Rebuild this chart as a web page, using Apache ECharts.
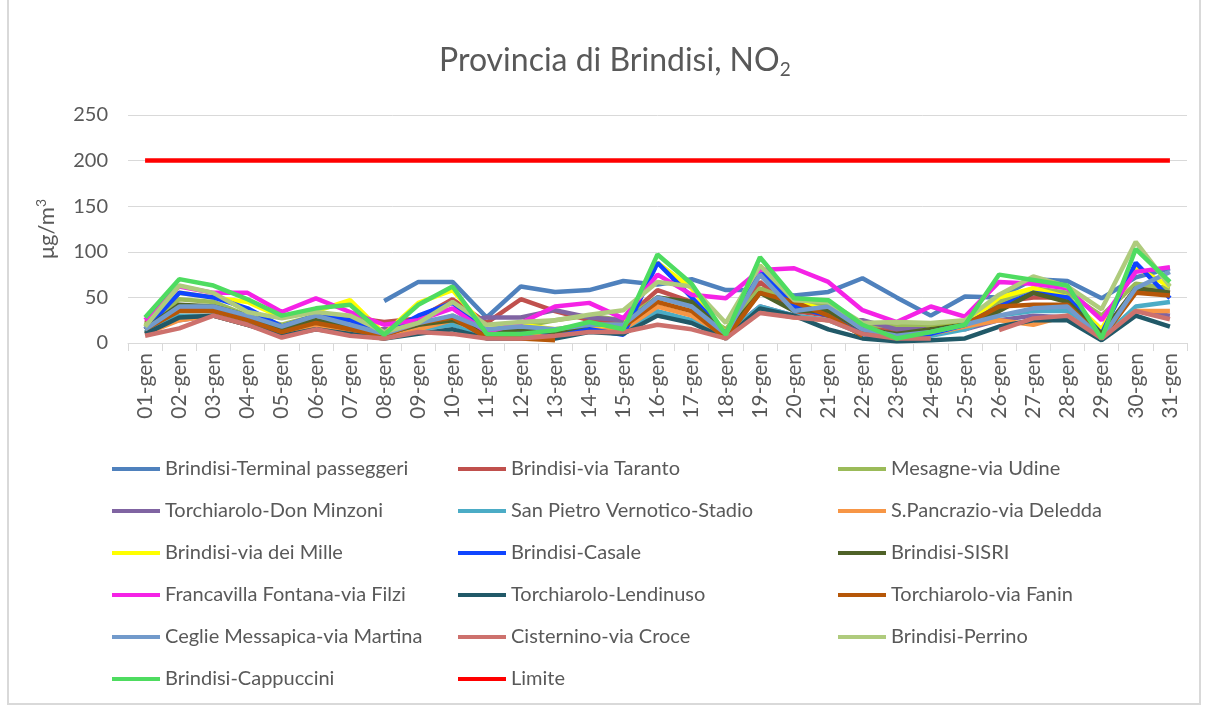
<!DOCTYPE html>
<html lang="it">
<head>
  <meta charset="UTF-8" />
  <title>Provincia di Brindisi, NO2</title>
  <script src="https://cdn.jsdelivr.net/npm/echarts@6/dist/echarts.min.js"></script>
  <style>
    html, body, #main {
      margin: 0; padding: 0; width: 100%; height: 100%;
      background: #ffffff;
    }
  </style>
</head>
<body>
  <div id="main"></div>
  <script>
    const days = ['01-gen','02-gen','03-gen','04-gen','05-gen','06-gen','07-gen','08-gen','09-gen','10-gen',
      '11-gen','12-gen','13-gen','14-gen','15-gen','16-gen','17-gen','18-gen','19-gen','20-gen',
      '21-gen','22-gen','23-gen','24-gen','25-gen','26-gen','27-gen','28-gen','29-gen','30-gen','31-gen'];

    const terminal = [null,null,null,null,null,null,null,46,67,67,28,62,56,58,68,64,70,58,58,52,56,71,50,30,51,50,70,68,49,72,82];
    const taranto = [22,38,35,28,18,30,28,23,27,48,22,48,35,25,25,58,45,10,67,35,30,20,14,14,20,45,50,50,10,60,55];
    const mesagne = [20,48,45,30,20,30,25,10,18,30,12,18,25,30,25,50,40,15,60,45,40,20,18,20,22,45,60,55,30,65,60];
    const donMinzoni = [15,25,30,22,15,20,15,15,18,22,28,28,36,28,25,30,25,10,40,30,25,25,15,15,15,25,30,28,5,35,30];
    const sanPietro = [12,30,30,20,12,22,15,8,15,20,8,10,8,15,10,35,25,8,40,30,25,10,5,8,15,30,35,35,5,40,45];
    const sPancrazio = [10,25,30,20,10,20,10,5,15,25,10,12,10,15,15,40,30,8,35,28,25,12,8,10,18,25,20,30,5,35,35];
    const deiMille = [18,55,50,45,28,35,47,10,44,58,15,20,15,20,18,88,60,10,85,45,36,15,8,15,20,50,60,50,15,83,62];
    const casale = [15,55,50,38,18,30,25,10,30,44,12,15,10,15,9,88,50,10,80,40,30,10,5,10,20,40,55,50,10,88,49];
    const sisri = [15,42,40,30,15,25,18,10,20,25,12,15,12,20,20,50,45,10,55,35,35,15,10,15,20,35,55,45,10,60,55];
    const francavilla = [25,62,55,55,34,49,34,20,25,38,12,22,40,44,27,75,53,49,80,82,67,36,23,40,29,67,65,60,25,78,83];
    const lendinuso = [10,28,30,20,8,15,10,5,10,15,5,5,5,12,10,30,22,5,38,30,15,5,2,3,5,18,25,25,3,30,18];
    const fanin = [15,35,35,25,12,22,15,8,22,28,6,5,3,null,18,45,35,5,55,45,30,8,null,null,20,40,42,42,5,55,52];
    const ceglie = [15,40,40,30,18,30,20,10,22,30,15,18,15,20,20,50,40,10,75,35,40,15,8,12,20,30,38,40,5,60,78];
    const cisternino = [8,16,30,20,6,15,8,5,12,10,5,5,8,12,12,20,15,5,33,28,25,10,5,5,null,14,27,30,5,35,26];
    const perrino = [18,63,55,34,27,34,30,12,22,45,20,23,25,31,36,67,62,22,85,47,45,22,23,22,25,53,73,62,37,111,62];
    const cappuccini = [28,70,63,48,30,38,42,9,42,62,10,10,14,23,15,97,65,9,94,49,47,20,5,12,20,75,69,63,5,103,67];
    const limite = [200,200,200,200,200,200,200,200,200,200,200,200,200,200,200,200,200,200,200,200,200,200,200,200,200,200,200,200,200,200,200];

    const stations = [
      ['Brindisi-Terminal passeggeri', terminal, '#4F81BD'],
      ['Brindisi-via Taranto', taranto, '#C0504D'],
      ['Mesagne-via Udine', mesagne, '#9BBB59'],
      ['Torchiarolo-Don Minzoni', donMinzoni, '#8064A2'],
      ['San Pietro Vernotico-Stadio', sanPietro, '#4BACC6'],
      ['S.Pancrazio-via Deledda', sPancrazio, '#F79646'],
      ['Brindisi-via dei Mille', deiMille, '#FFFF00'],
      ['Brindisi-Casale', casale, '#0F45FF'],
      ['Brindisi-SISRI', sisri, '#4F6228'],
      ['Francavilla Fontana-via Filzi', francavilla, '#F522E6'],
      ['Torchiarolo-Lendinuso', lendinuso, '#215968'],
      ['Torchiarolo-via Fanin', fanin, '#B65708'],
      ['Ceglie Messapica-via Martina', ceglie, '#729ACB'],
      ['Cisternino-via Croce', cisternino, '#CD716D'],
      ['Brindisi-Perrino', perrino, '#AFCB7D'],
      ['Brindisi-Cappuccini', cappuccini, '#4EDC60'],
      ['Limite', limite, '#FF0000']
    ];

    const font = 'Lato, "Liberation Sans", sans-serif';
    const grey = '#595959';

    const series = stations.map(s => ({
      name: s[0],
      type: 'line',
      data: s[1],
      showSymbol: false,
      symbol: 'none',
      connectNulls: false,
      color: s[2],
      lineStyle: { width: 4.5, color: s[2] },
      emphasis: { disabled: true },
      animation: false
    }));

    const names = stations.map(s => s[0]);
    const legendCol = (col, left) => ({
      orient: 'vertical',
      left: left,
      top: 454,
      data: names.filter((n, i) => i % 3 === col),
      icon: 'rect',
      itemWidth: 48,
      itemHeight: 4,
      itemGap: 22,
      selectedMode: false,
      textStyle: { fontFamily: font, fontSize: 20, color: grey, lineHeight: 20 }
    });

    const chart = echarts.init(document.getElementById('main'));
    chart.setOption({
      backgroundColor: '#ffffff',
      textStyle: { fontFamily: font },
      title: {
        text: 'Provincia di Brindisi, NO{sub|2}',
        left: 434,
        top: 38,
        textStyle: {
          fontFamily: font,
          fontSize: 32,
          fontWeight: 'normal',
          color: grey,
          rich: {
            sub: { fontFamily: font, fontSize: 19, color: grey, padding: [17, 0, 0, 0] }
          }
        }
      },
      legend: [legendCol(0, 107), legendCol(1, 453), legendCol(2, 833)],
      grid: { left: 128, right: 20, top: 115, bottom: 367 },
      xAxis: {
        type: 'category',
        data: days,
        boundaryGap: true,
        axisLine: { lineStyle: { color: '#D9D9D9', width: 1 } },
        axisTick: { show: true, length: 8, lineStyle: { color: '#D9D9D9' } },
        axisLabel: { rotate: 90, fontSize: 21, color: grey, fontFamily: font, margin: 10, interval: 0 }
      },
      yAxis: {
        type: 'value',
        min: 0,
        max: 250,
        interval: 50,
        name: 'μg/m{sup|3}',
        nameLocation: 'middle',
        nameRotate: 90,
        nameGap: 68,
        nameTextStyle: {
          fontFamily: font, fontSize: 22, color: grey,
          rich: { sup: { fontFamily: font, fontSize: 14, color: grey, padding: [0, 0, 12, 0] } }
        },
        axisLine: { show: false },
        axisTick: { show: false },
        axisLabel: { fontSize: 20, color: grey, fontFamily: font, margin: 20 },
        splitLine: { lineStyle: { color: '#D9D9D9', width: 1 } }
      },
      graphic: [{
        type: 'rect',
        shape: { x: 8, y: -2, width: 1192, height: 706 },
        style: { fill: 'none', stroke: '#D9D9D9', lineWidth: 2 },
        silent: true
      }],
      series: series
    });
  </script>
</body>
</html>
